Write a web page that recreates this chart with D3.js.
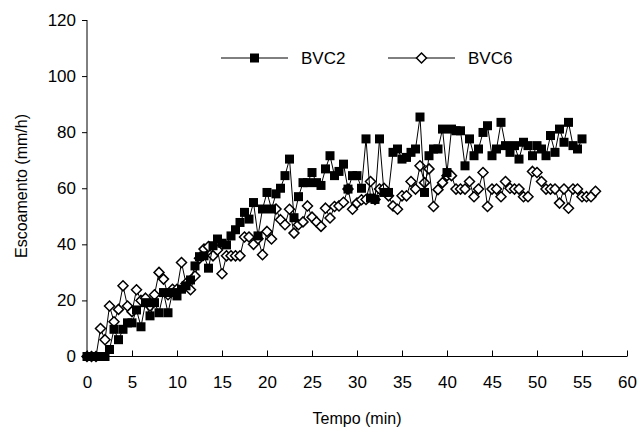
<!DOCTYPE html>
<html>
<head>
<meta charset="utf-8">
<script src="https://cdn.jsdelivr.net/npm/d3@7"></script>
<style>
  body { margin: 0; background: #fff; }
  text { font-family: Arial, "Liberation Sans", sans-serif; fill: #000; }
</style>
</head>
<body>
<script>
// data: [tempo (min), escoamento (mm/h)]
var bvc2 = [
  [0,0],[0.5,0],[1,0],[1.5,0],[2,0],[2.5,2.5],[3,9.7],[3.5,6],[4,9.7],[4.5,12],
  [5,12],[5.5,16.6],[6,10.6],[6.5,19.2],[7,14.5],[7.5,19.2],[8,15.6],[8.5,22.8],[9,15.6],[9.5,22.8],
  [10,21.6],[10.5,24],[11,25.2],[11.5,27.3],[12,32.3],[12.5,35.6],[13,35.9],[13.5,31.5],[14,39.5],[14.5,41.9],
  [15,40.4],[15.5,39.8],[16,43],[16.5,45.2],[17,47.8],[17.5,51.4],[18,49],[18.5,54.9],[19,43],[19.5,52.6],
  [20,58.5],[20.5,52.6],[21,58],[21.5,60],[22,64.5],[22.5,70.4],[23,49.5],[23.5,57],[24,62],[24.5,62],
  [25,65.6],[25.5,62],[26,61],[26.5,66.9],[27,71.6],[27.5,64.5],[28,66],[28.5,68.6],[29,59.7],[29.5,64.5],
  [30,64.5],[30.5,60],[31,77.6],[31.5,56.5],[32,56],[32.5,77.6],[33,58.5],[33.5,58.5],[34,72.8],[34.5,74],
  [35,70.4],[35.5,71],[36,72.8],[36.5,74],[37,85.4],[37.5,58.5],[38,71.6],[38.5,74],[39,74],[39.5,81.1],
  [40,65.6],[40.5,81.1],[41,80.5],[41.5,80.5],[42,68],[42.5,77.6],[43,71.6],[43.5,74],[44,79.9],[44.5,82.3],
  [45,71.6],[45.5,74],[46,83.5],[46.5,75.2],[47,72.8],[47.5,75.2],[48,70.4],[48.5,76.4],[49,75.2],[49.5,71.6],
  [50,75.2],[50.5,74],[51,71.6],[51.5,78.8],[52,72.8],[52.5,81.1],[53,76.4],[53.5,83.5],[54,75.2],[54.5,74],
  [55,77.6]
];
var bvc6 = [
  [0,0],[0.5,0],[1,0],[1.5,10],[2,6],[2.5,18],[3,12.4],[3.5,16.8],[4,25.2],[4.5,18],
  [5,16],[5.5,23.8],[6,20],[6.5,20.8],[7,18],[7.5,22],[8,30],[8.5,27.6],[9,22],[9.5,24],
  [10,24],[10.5,33.5],[11,26],[11.5,23.8],[12,28.7],[12.5,35],[13,38.3],[13.5,39.2],[14,35.9],[14.5,38],
  [15,29.5],[15.5,35.9],[16,35.9],[16.5,35.9],[17,35.9],[17.5,42.6],[18,42.6],[18.5,40],[19,42],[19.5,36.3],
  [20,44.6],[20.5,41.9],[21,52.6],[21.5,48.8],[22,47],[22.5,52.5],[23,44],[23.5,47],[24,48],[24.5,53.7],
  [25,49.7],[25.5,48],[26,46.4],[26.5,52.9],[27,49.4],[27.5,53.5],[28,53.7],[28.5,55],[29,59.7],[29.5,52.5],
  [30,54.7],[30.5,55.9],[31,56],[31.5,62.4],[32,56],[32.5,59.7],[33,60],[33.5,57.3],[34,53.7],[34.5,52.5],
  [35,57.3],[35.5,57.3],[36,62.4],[36.5,59.7],[37,68],[37.5,62],[38,66.9],[38.5,53.5],[39,59.5],[39.5,62],
  [40,64.5],[40.5,64.5],[41,59.7],[41.5,59.7],[42,59.7],[42.5,62.4],[43,57],[43.5,59.7],[44,65.6],[44.5,53.5],
  [45,59.7],[45.5,59.7],[46,57],[46.5,62.4],[47,60],[47.5,59.7],[48,59.7],[48.5,57],[49,57],[49.5,66],
  [50,65.6],[50.5,62.4],[51,59.7],[51.5,59.7],[52,59.7],[52.5,54.7],[53,59.7],[53.5,52.9],[54,59.7],[54.5,59.7],
  [55,57],[55.5,57],[56,57],[56.5,58.9]
];
var xTicks = [0,5,10,15,20,25,30,35,40,45,50,55,60];
var yTicks = [0,20,40,60,80,100,120];
var seriesNames = ["BVC2","BVC6"];

var W = 637, H = 430;
var svg = d3.select("body").append("svg").attr("width", W).attr("height", H);

var x = d3.scaleLinear().domain([0,60]).range([87,627]);
var y = d3.scaleLinear().domain([0,120]).range([356.5,20]);

// axes
var yAxis = d3.axisLeft(y).tickValues(yTicks).tickSize(5).tickPadding(6);
var gy = svg.append("g").attr("transform","translate(87,0)").call(yAxis);
var xAxis = d3.axisBottom(x).tickValues(xTicks).tickSize(-6).tickPadding(19);
var gx = svg.append("g").attr("transform","translate(0,356.5)").call(xAxis);

[gx, gy].forEach(function(g){
  g.select(".domain").attr("stroke","#000").attr("stroke-width",1);
  g.selectAll(".tick line").attr("stroke","#000");
  g.selectAll(".tick text").style("font-size","17px").attr("fill","#000")
    .style("font-family","Arial, 'Liberation Sans', sans-serif");
});
// plain axis lines, no end caps
gx.select(".domain").attr("d","M87,0H627");
gy.select(".domain").attr("d","M0,20V356.5");

// axis titles
svg.append("text").attr("x",357).attr("y",424).attr("text-anchor","middle")
  .style("font-size","16px").text("Tempo (min)");
svg.append("text").attr("transform","translate(27,186) rotate(-90)").attr("text-anchor","middle")
  .style("font-size","16px").text("Escoamento (mm/h)");

var line = d3.line().x(function(d){ return x(d[0]); }).y(function(d){ return y(d[1]); });

function drawSeries(data, kind){
  svg.append("path").datum(data).attr("d", line)
    .attr("fill","none").attr("stroke","#000").attr("stroke-width",1);
  var g = svg.append("g");
  data.forEach(function(d){ marker(g, x(d[0]), y(d[1]), kind); });
}

function marker(g, cx, cy, kind){
  if(kind == "square"){
    g.append("rect").attr("x",cx-4.5).attr("y",cy-4.5).attr("width",9).attr("height",9)
      .attr("fill","#000");
  } else {
    var r = 5;
    g.append("path").attr("d","M"+cx+","+(cy-r)+"L"+(cx+r)+","+cy+"L"+cx+","+(cy+r)+"L"+(cx-r)+","+cy+"Z")
      .attr("fill","#fff").attr("stroke","#000").attr("stroke-width",1.5);
  }
}

drawSeries(bvc6, "diamond");
drawSeries(bvc2, "square");

// legend
var legend = svg.append("g");
var legItems = [{name:seriesNames[0], kind:"square", x0:221}, {name:seriesNames[1], kind:"diamond", x0:388}];
legItems.forEach(function(it){
  legend.append("line").attr("x1",it.x0).attr("x2",it.x0+67).attr("y1",58).attr("y2",58)
    .attr("stroke","#000").attr("stroke-width",1);
  marker(legend, it.x0+33.5, 58, it.kind);
  legend.append("text").attr("x",it.x0+80).attr("y",64).style("font-size","17px").text(it.name);
});
</script>
</body>
</html>
